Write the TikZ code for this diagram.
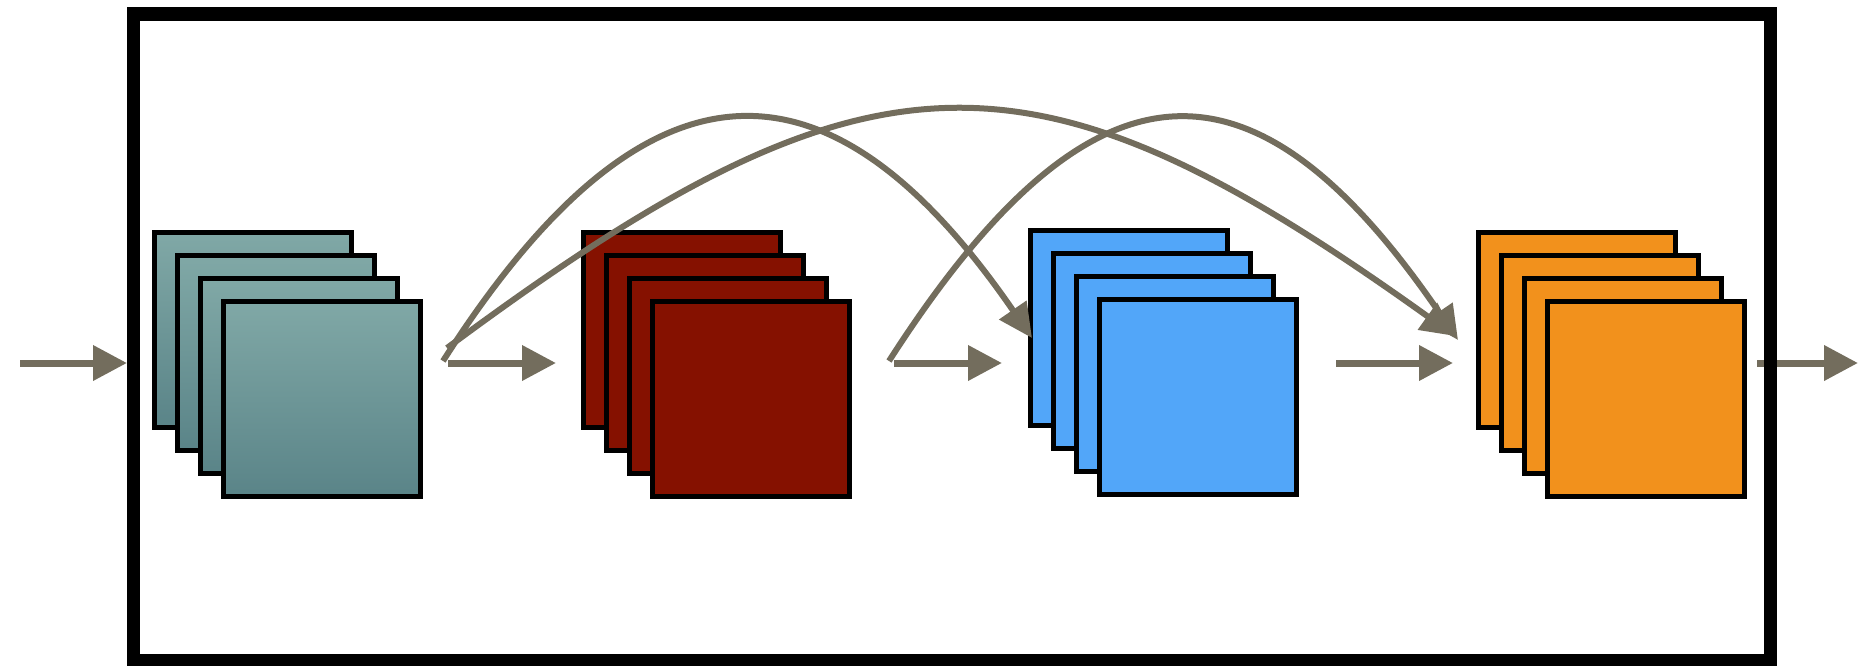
\documentclass[tikz,border=0pt]{standalone}
\usetikzlibrary{arrows.meta}
\definecolor{conn}{RGB}{115,109,93}
\definecolor{tealtop}{RGB}{128,168,166}
\definecolor{tealbot}{RGB}{90,132,136}
\definecolor{mapred}{RGB}{133,17,0}
\definecolor{mapblue}{RGB}{82,166,249}
\definecolor{maporange}{RGB}{242,145,28}
\begin{document}
\begin{tikzpicture}[x=1pt,y=-1pt,
  fmap/.style={rectangle, draw=black, line width=5pt, minimum width=197pt,
    minimum height=195pt, inner sep=0pt, outer sep=0pt, anchor=north west},
  tealmap/.style={fmap, top color=tealtop, bottom color=tealbot},
  redmap/.style={fmap, fill=mapred},
  bluemap/.style={fmap, fill=mapblue},
  orangemap/.style={fmap, fill=maporange},
  flow/.style={draw=conn, line width=7pt, -{Triangle[length=34pt,width=34pt]}},
  skip/.style={draw=conn, line width=6pt, -{Triangle[length=34pt,width=32pt]}}
]
\useasboundingbox (0,0) rectangle (1858,665);

% stacks of feature maps (outer corner + half the border)
\foreach \i/\dx in {1/0,2/23,3/46,4/69} {
  \node[tealmap]   (t\i) at (154.5+\dx,232.5+\dx) {};
}
\foreach \i/\dx in {1/0,2/23,3/46,4/69} {
  \node[redmap]    (r\i) at (583.5+\dx,232.5+\dx) {};
}
\foreach \i/\dx in {1/0,2/23,3/46,4/69} {
  \node[bluemap]   (b\i) at (1030.5+\dx,230.5+\dx) {};
}
\foreach \i/\dx in {1/0,2/23,3/46,4/69} {
  \node[orangemap] (o\i) at (1478.5+\dx,232.5+\dx) {};
}

% arrow end points
\coordinate (inS)  at (20,363);   \coordinate (inE)  at (127,363);
\coordinate (trS)  at (448,363);  \coordinate (trE)  at (556,363);
\coordinate (rbS)  at (894,363);  \coordinate (rbE)  at (1002,363);
\coordinate (boS)  at (1336,363); \coordinate (boE)  at (1453,363);
\coordinate (outS) at (1757,363); \coordinate (outE) at (1858,363);

\coordinate (aS) at (443,361);  \coordinate (aE) at (1032,338);
\coordinate (bS) at (447,348);  \coordinate (bE) at (1455,336);
\coordinate (cS) at (889,361);  \coordinate (cE) at (1458,340);

% main flow
\draw[flow] (inS) -- (inE);
\draw[flow] (trS) -- (trE);
\draw[flow] (rbS) -- (rbE);
\draw[flow] (boS) -- (boE);
\draw[flow] (outS) -- (outE);

% skip connections
\draw[skip] (aS) .. controls (646,43) and (829,43) .. (aE);
\draw[skip] (bS) .. controls (871,33) and (1032,33) .. (bE);
\draw[skip] (cS) .. controls (1093,43) and (1255,43) .. (cE);

% enclosing block
\draw[line width=13.5pt] (133.5,14) rectangle (1770.5,660.5);
\end{tikzpicture}
\end{document}
